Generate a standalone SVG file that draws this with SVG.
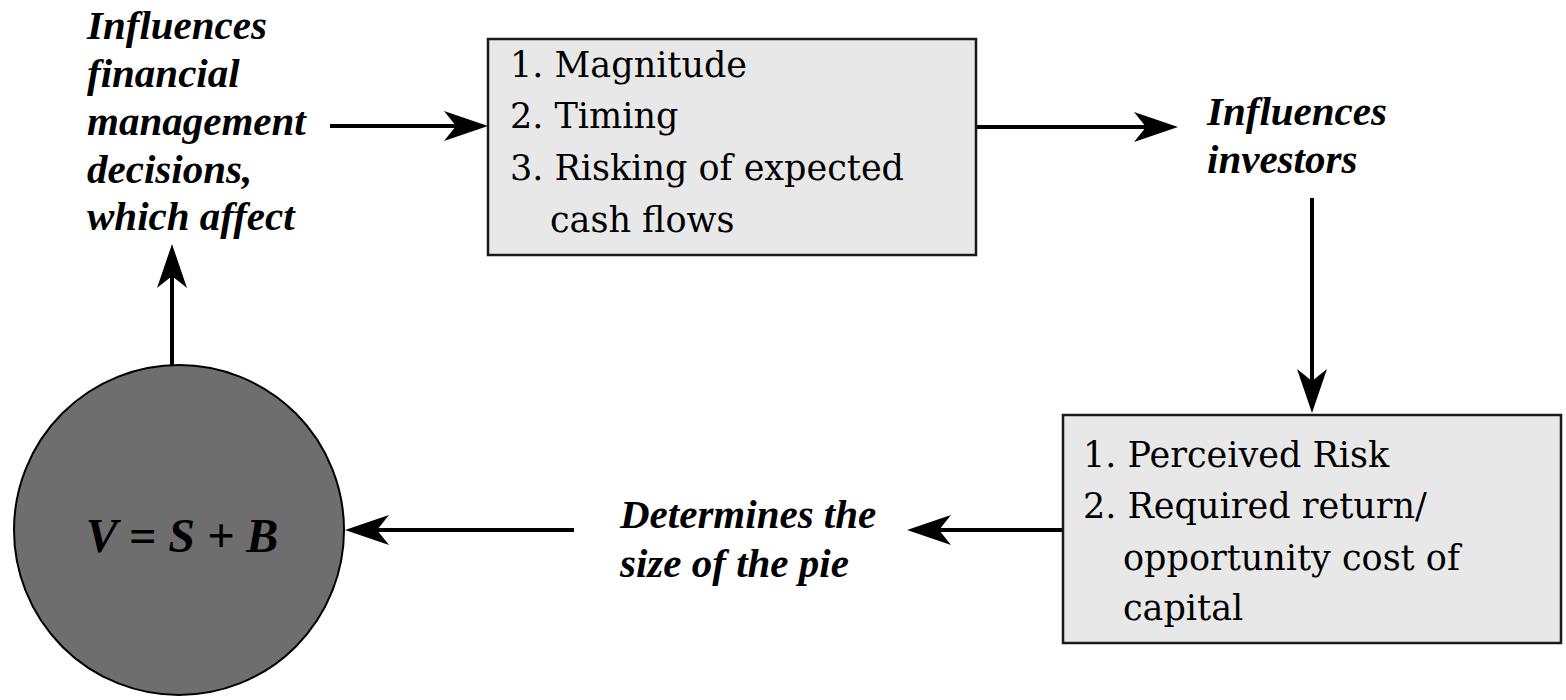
<svg xmlns="http://www.w3.org/2000/svg" width="1566" height="700" viewBox="0 0 1566 700">
  <style>
    .label { font-family: "Liberation Serif", "Times New Roman", serif; font-weight: bold; font-style: italic; font-size: 41px; fill: #000; }
    .item { font-family: "DejaVu Serif", "Liberation Serif", serif; font-size: 35px; fill: #000; }
    .box { fill: #e8e8e8; stroke: #1a1a1a; stroke-width: 2.5; }
    .conn { stroke: #000; stroke-width: 4; fill: none; marker-end: url(#head); }
  </style>
  <defs>
    <marker id="head" viewBox="0 0 44 30" refX="24" refY="15" markerWidth="44" markerHeight="30" markerUnits="userSpaceOnUse" orient="auto">
      <path d="M0,0 L44,15 L0,30 L12,15 Z" fill="#000"/>
    </marker>
  </defs>
  <rect width="1566" height="700" fill="#fff"/>

  <!-- connectors -->
  <g id="connectors">
    <line class="conn" x1="330" y1="126" x2="468" y2="126"/>
    <line class="conn" x1="976" y1="127" x2="1158" y2="127"/>
    <line class="conn" x1="1312" y1="198" x2="1312" y2="393"/>
    <line class="conn" x1="1063" y1="530" x2="927" y2="530"/>
    <line class="conn" x1="574" y1="530" x2="365" y2="530"/>
    <line class="conn" x1="172" y1="365" x2="172" y2="264"/>
  </g>

  <!-- caption: decisions -->
  <g id="decisions">
    <text class="label" x="87" y="39">Influences</text>
    <text class="label" x="87" y="87">financial</text>
    <text class="label" x="87" y="135">management</text>
    <text class="label" x="87" y="183">decisions,</text>
    <text class="label" x="87" y="230">which affect</text>
  </g>

  <!-- cash flow box -->
  <g id="cashflows">
    <rect class="box" x="488" y="39" width="488" height="216"/>
    <text class="item" x="510" y="77">1. Magnitude</text>
    <text class="item" x="510" y="128">2. Timing</text>
    <text class="item" x="510" y="180">3. Risking of expected</text>
    <text class="item" x="550" y="232">cash flows</text>
  </g>

  <!-- caption: investors -->
  <g id="investors">
    <text class="label" x="1207" y="125">Influences</text>
    <text class="label" x="1207" y="173">investors</text>
  </g>

  <!-- risk box -->
  <g id="risk">
    <rect class="box" x="1063" y="415" width="498" height="228"/>
    <text class="item" x="1083" y="467">1. Perceived Risk</text>
    <text class="item" x="1083" y="518">2. Required return/</text>
    <text class="item" x="1123" y="570">opportunity cost of</text>
    <text class="item" x="1123" y="620">capital</text>
  </g>

  <!-- caption: pie size -->
  <g id="pie">
    <text class="label" x="620" y="528">Determines the</text>
    <text class="label" x="620" y="577">size of the pie</text>
  </g>

  <!-- firm value -->
  <g id="value">
    <circle cx="179" cy="530" r="165" fill="#6e6e6e" stroke="#000" stroke-width="2"/>
    <text class="label" x="182" y="552" text-anchor="middle" style="font-size:48px">V = S + B</text>
  </g>
</svg>
